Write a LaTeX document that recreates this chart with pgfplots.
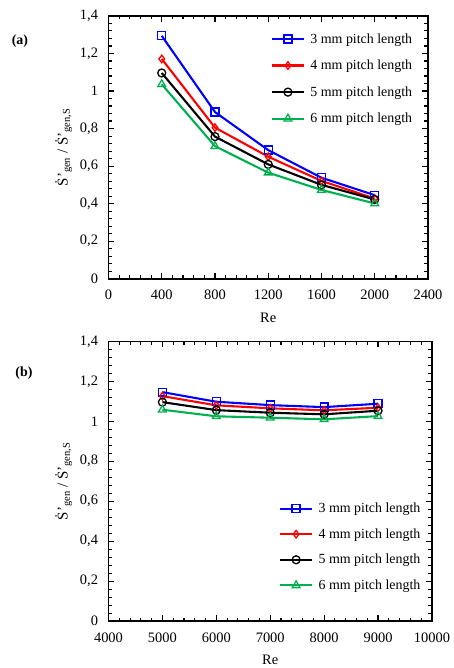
\documentclass[border=0pt]{standalone}
\usepackage{pgfplots}
\pgfplotsset{compat=1.18}
\usepackage{fontspec}
\setmainfont{Liberation Serif}
\definecolor{exgreen}{RGB}{0,176,80}

\pgfplotsset{
  pitch/.style={
    scale only axis,
    axis line style={line width=1.8pt},
    tick style={black, line width=1.1pt},
    tick align=inside,
    major tick length=6pt,
    minor tick length=3.5pt,
    ymin=0, ymax=1.4,
    ytick={0,0.2,...,1.4},
    minor y tick num=4,
    minor x tick num=4,
    scaled x ticks=false,
    ylabel={Ṡ'\textsubscript{gen} / Ṡ'\textsubscript{gen,S}},
    xlabel={Re},
    ylabel style={font=\fontsize{15}{17}\selectfont, yshift=1pt},
    xlabel style={font=\fontsize{14.5}{17}\selectfont, yshift=-6pt},
    xticklabel style={yshift=-8pt},
    yticklabel style={xshift=-7pt},
    /pgf/number format/assume math mode=true,
    /pgf/number format/use comma,
    /pgf/number format/set thousands separator={},
    tick label style={font=\fontsize{14.5}{17}\selectfont},
    legend cell align=left,
    legend style={draw=none, fill=none, font=\fontsize{14}{16}\selectfont,
      inner sep=0pt, nodes={inner xsep=5.5pt}},
    legend image code/.code={
      \draw[mark repeat=2,mark phase=2] plot coordinates {(0pt,0pt)(16pt,0pt)(32pt,0pt)};},
    every axis plot/.append style={line width=2.1pt, mark options={solid, fill=white, line width=1.3pt}},
  },
  s3/.style={blue, mark=square, mark size=4pt},
  s4/.style={red, mark=diamond, mark size=3.8pt},
  s5/.style={black, mark=o, mark size=4pt},
  s6/.style={exgreen, mark=triangle, mark size=4.5pt},
}

\begin{document}
\begin{tikzpicture}
\path (0pt,0pt) rectangle (451pt,-668pt);

\begin{axis}[pitch,
  at={(109pt,-280pt)}, anchor=south west,
  width=321pt, height=264pt,
  xmin=0, xmax=2400, xtick={0,400,...,2400},
  legend style={at={(0.508,0.942)}, anchor=north west, row sep=11.5pt},
]
\addplot[s3] coordinates {(400,1.294)(800,0.888)(1200,0.685)(1600,0.538)(2000,0.445)};
\addplot[s4] coordinates {(400,1.171)(800,0.805)(1200,0.650)(1600,0.521)(2000,0.427)};
\addplot[s5] coordinates {(400,1.096)(800,0.757)(1200,0.609)(1600,0.500)(2000,0.422)};
\addplot[s6] coordinates {(400,1.036)(800,0.706)(1200,0.565)(1600,0.473)(2000,0.401)};
\legend{3 mm pitch length, 4 mm pitch length, 5 mm pitch length, 6 mm pitch length}
\end{axis}

\begin{axis}[pitch,
  at={(109pt,-624pt)}, anchor=south west,
  width=325pt, height=281pt,
  xmin=4000, xmax=10000, xtick={4000,5000,...,10000},
  legend style={at={(0.527,0.43)}, anchor=north west, row sep=10.5pt},
]
\addplot[s3] coordinates {(5000,1.146)(6000,1.098)(7000,1.081)(8000,1.071)(9000,1.088)};
\addplot[s4] coordinates {(5000,1.126)(6000,1.080)(7000,1.065)(8000,1.055)(9000,1.068)};
\addplot[s5] coordinates {(5000,1.096)(6000,1.056)(7000,1.043)(8000,1.035)(9000,1.053)};
\addplot[s6] coordinates {(5000,1.058)(6000,1.025)(7000,1.018)(8000,1.010)(9000,1.026)};
\legend{3 mm pitch length, 4 mm pitch length, 5 mm pitch length, 6 mm pitch length}
\end{axis}

\node[font=\fontsize{14}{16}\selectfont\bfseries] at (20pt,-41pt) {(a)};
\node[font=\fontsize{14}{16}\selectfont\bfseries] at (24pt,-375pt) {(b)};
\end{tikzpicture}
\end{document}
